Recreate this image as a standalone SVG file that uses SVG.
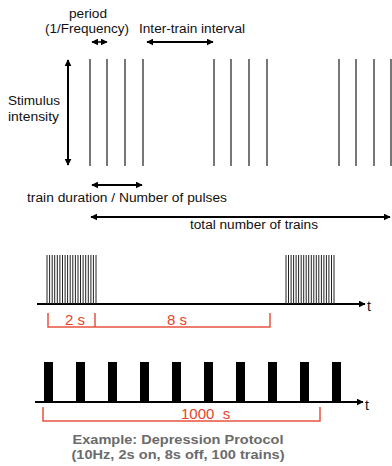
<svg xmlns="http://www.w3.org/2000/svg" width="392" height="466" viewBox="0 0 392 466">
<defs>
<style>
.lbl{font-family:"Liberation Sans",Arial,sans-serif;font-size:12.5px;fill:#111}
.red{font-family:"Liberation Sans",Arial,sans-serif;font-size:15px;fill:#e8432a}
.cap{font-family:"Liberation Sans",Arial,sans-serif;font-size:12.5px;font-weight:bold;fill:#6b6b6b}
.arr{stroke:#000;stroke-width:2;fill:none;marker-start:url(#ah);marker-end:url(#ah)}
.pulse{stroke:#555;stroke-width:1.6;fill:none}
.thin{stroke:#222;stroke-width:1;fill:none}
.axis{stroke:#000;stroke-width:2;fill:none;marker-end:url(#ah)}
.brk{stroke:#e8533f;stroke-width:1.5;fill:none}
</style>
<marker id="ah" viewBox="0 0 10 10" refX="9" refY="5" markerWidth="7" markerHeight="7" markerUnits="userSpaceOnUse" orient="auto-start-reverse">
<path d="M0,0 L10,5 L0,10 z" fill="#000"/>
</marker>
</defs>
<rect width="392" height="466" fill="#fff"/>

<g id="labels-top">
<text class="lbl" x="88" y="18" text-anchor="middle" textLength="38" lengthAdjust="spacingAndGlyphs">period</text>
<text class="lbl" x="45" y="33" textLength="84" lengthAdjust="spacingAndGlyphs">(1/Frequency)</text>
<text class="lbl" x="139" y="33" textLength="106" lengthAdjust="spacingAndGlyphs">Inter-train interval</text>
<text class="lbl" x="8" y="105" textLength="52" lengthAdjust="spacingAndGlyphs">Stimulus</text>
<text class="lbl" x="8" y="121" textLength="51" lengthAdjust="spacingAndGlyphs">intensity</text>
<text class="lbl" x="27" y="202" textLength="200" lengthAdjust="spacingAndGlyphs">train duration / Number of pulses</text>
<text class="lbl" x="190" y="229" textLength="128" lengthAdjust="spacingAndGlyphs">total number of trains</text>
</g>

<g id="trains-top">
<path class="pulse" d="M90,59V166M107,59V166M125,59V166M143,59V166M214,59V166M231,59V166M249,59V166M267,59V166M339,59V166M356,59V166M374,59V166M391,59V166"/>
</g>

<g id="connectors">
<line class="arr" x1="68" y1="60" x2="68" y2="165"/>
<line class="arr" x1="92" y1="42" x2="107" y2="42" style="stroke-width:1.5"/>
<line class="arr" x1="147" y1="42" x2="213" y2="42"/>
<line class="arr" x1="92" y1="185" x2="142" y2="185"/>
<line class="arr" x1="91" y1="217" x2="390" y2="217"/>
<line class="axis" x1="37" y1="304" x2="365" y2="304"/>
<line class="axis" x1="35" y1="402" x2="363" y2="402"/>
</g>

<g id="protocol-middle">
<path class="thin" d="M47,255V304M49.6,255V304M52.2,255V304M54.7,255V304M57.3,255V304M59.9,255V304M62.5,255V304M65.1,255V304M67.6,255V304M70.2,255V304M72.8,255V304M75.4,255V304M78,255V304M80.5,255V304M83.1,255V304M85.7,255V304M88.3,255V304M90.9,255V304M93.4,255V304M96,255V304"/>
<path class="thin" d="M286,255V304M288.5,255V304M291.1,255V304M293.6,255V304M296.1,255V304M298.6,255V304M301.2,255V304M303.7,255V304M306.2,255V304M308.7,255V304M311.3,255V304M313.8,255V304M316.3,255V304M318.8,255V304M321.4,255V304M323.9,255V304M326.4,255V304M328.9,255V304M331.5,255V304M334,255V304"/>
<text class="lbl" x="367" y="311" style="font-size:14px">t</text>
<path class="brk" d="M48,313V327H270V313M95,313V327"/>
<text class="red" x="65" y="325">2 s</text>
<text class="red" x="167" y="325">8 s</text>
</g>

<g id="protocol-bottom">
<g fill="#000">
<rect x="44" y="362" width="9" height="40"/>
<rect x="76" y="362" width="9" height="40"/>
<rect x="108" y="362" width="9" height="40"/>
<rect x="140" y="362" width="9" height="40"/>
<rect x="172" y="362" width="9" height="40"/>
<rect x="204" y="362" width="9" height="40"/>
<rect x="236" y="362" width="9" height="40"/>
<rect x="268" y="362" width="9" height="40"/>
<rect x="300" y="362" width="9" height="40"/>
<rect x="332" y="362" width="9" height="40"/>
</g>
<text class="lbl" x="365" y="410" style="font-size:14px">t</text>
<path class="brk" d="M43,407V421H320V407"/>
<text class="red" x="181" y="419" xml:space="preserve">1000  s</text>
</g>

<g id="caption">
<text class="cap" x="178" y="444" text-anchor="middle" textLength="211" lengthAdjust="spacingAndGlyphs">Example: Depression Protocol</text>
<text class="cap" x="178" y="459" text-anchor="middle" textLength="213" lengthAdjust="spacingAndGlyphs">(10Hz, 2s on, 8s off, 100 trains)</text>
</g>
</svg>
